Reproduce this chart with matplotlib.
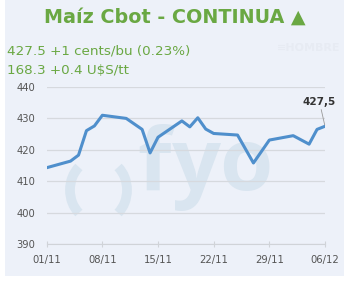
import matplotlib
matplotlib.use("Agg")
import matplotlib.pyplot as plt
from matplotlib.patches import Arc, Rectangle
import datetime as dt

# data
dates = ["2021-11-01", "2021-11-04", "2021-11-05", "2021-11-06", "2021-11-07",
         "2021-11-08", "2021-11-11", "2021-11-13", "2021-11-14", "2021-11-15",
         "2021-11-18", "2021-11-19", "2021-11-20", "2021-11-21", "2021-11-22",
         "2021-11-25", "2021-11-27", "2021-11-29", "2021-12-02", "2021-12-04",
         "2021-12-05", "2021-12-06"]
prices = [414.3, 416.4, 418.3, 426.1, 427.6,
          431.0, 430.0, 426.5, 419.0, 424.0,
          429.2, 427.3, 430.2, 426.6, 425.2,
          424.7, 415.8, 423.1, 424.5, 421.8,
          426.5, 427.5]
tick_dates = ["2021-11-01", "2021-11-08", "2021-11-15", "2021-11-22", "2021-11-29", "2021-12-06"]
tick_labels = ["01/11", "08/11", "15/11", "22/11", "29/11", "06/12"]
y_ticks = [390, 400, 410, 420, 430, 440]

title = "Maíz Cbot - CONTINUA \u25B2"
line1 = "427.5 +1 cents/bu (0.23%)"
line2 = "168.3 +0.4 U$S/tt"
last_label = "427,5"

x = [dt.datetime.strptime(d, "%Y-%m-%d") for d in dates]
xt = [dt.datetime.strptime(d, "%Y-%m-%d") for d in tick_dates]

bg = "#edf1f9"
green = "#6aa843"
wmc = "#d9e5f0"
W, H = 347, 281

fig = plt.figure(figsize=(3.47, 2.81), dpi=100, facecolor="white")
# panel background
fig.patches.append(Rectangle((5 / W, 5 / H), 339 / W, 276 / H,
                             transform=fig.transFigure, facecolor=bg,
                             edgecolor="none", zorder=-5))

# watermark (pixel positions from top-left, drawn under the axes)
inch = fig.dpi_scale_trans
fig.patches.append(Arc((95 / 100, (H - 190) / 100), 0.5, 0.6, theta1=125, theta2=235,
                       color=wmc, linewidth=7, transform=inch, zorder=-1))
fig.patches.append(Arc((102 / 100, (H - 190) / 100), 0.5, 0.6, theta1=-55, theta2=55,
                       color=wmc, linewidth=7, transform=inch, zorder=-1))
wm = dict(color=wmc, fontweight="bold", family="Open Sans", fontsize=62,
          ha="center", va="baseline", zorder=-1)
fig.text(154 / W, 1 - 190 / H, "f", **wm)
fig.text(196 / W, 1 - 190 / H, "y", **wm)
fig.text(246 / W, 1 - 190 / H, "o", **wm)
fig.text(0.89, 0.83, "\u2261HOMBRE", fontsize=8, color="#e7ebf3", fontweight="bold",
         ha="center", va="center")

ax = fig.add_axes([46.7 / W, 1 - 244 / H, (325 - 46.7) / W, (244 - 87) / H])
ax.set_facecolor("none")

ax.plot(x, prices, color="#4f8fcc", linewidth=2.2, zorder=3)

ax.set_xlim(xt[0], xt[-1])
ax.set_ylim(390, 440)
ax.set_yticks(y_ticks)
ax.set_xticks(xt)
ax.set_xticklabels(tick_labels)
ax.yaxis.grid(True, color="#d6d9de", linewidth=0.9)
ax.set_axisbelow(True)
for s in ["top", "right", "left"]:
    ax.spines[s].set_visible(False)
ax.spines["bottom"].set_color("#d0d3d8")
ax.tick_params(axis="y", length=0, pad=8, labelsize=7.2, labelcolor="#555555")
ax.tick_params(axis="x", direction="inout", length=4, color="#d0d3d8", pad=6,
               labelsize=7.2, labelcolor="#555555")

# last value label
ax.annotate(last_label, xy=(x[-1], prices[-1]), xytext=(-4, 14), textcoords="offset points",
            ha="center", va="bottom", fontsize=7.5, fontweight="bold", color="#333333",
            arrowprops=dict(arrowstyle="-", color="#999999", linewidth=0.6,
                            shrinkA=0, shrinkB=1))

fig.text(175 / W, 1 - 17 / H, title, ha="center", va="center", fontsize=13.8,
         fontweight="bold", color=green)
fig.text(7 / W, 1 - 51 / H, line1, ha="left", va="center", fontsize=9.7, color=green)
fig.text(7 / W, 1 - 70 / H, line2, ha="left", va="center", fontsize=9.7, color=green)

plt.savefig("out.png", dpi=100, facecolor="white")
